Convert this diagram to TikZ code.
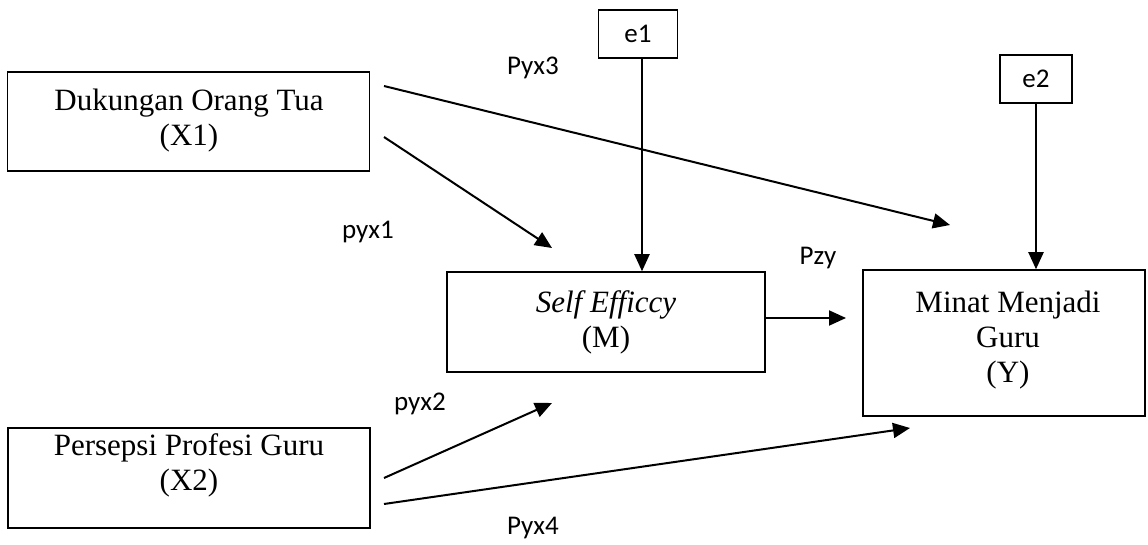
\documentclass[tikz,border=0pt]{standalone}
\usepackage{fontspec}
\setmainfont{Liberation Serif}
\newfontfamily\lblfont{Carlito}
\usetikzlibrary{arrows.meta}
\begin{document}
\begin{tikzpicture}[x=1pt,y=-1pt,
  box/.style={draw, line width=1.5pt, inner sep=0pt},
  boxtext/.style={font=\fontsize{31}{35}\selectfont, align=center, inner sep=0pt},
  lbl/.style={font=\lblfont\fontsize{27}{30}\selectfont, inner sep=0pt},
  arr/.style={line width=2pt, -{Triangle[length=17pt,width=15pt]}}]
\useasboundingbox (0,0) rectangle (1148,545);
% boxes
\node[box, minimum width=362pt, minimum height=99pt] (X1) at (188.5,121.5) {};
\node[box, minimum width=362pt, minimum height=100pt] (X2) at (189,478) {};
\node[box, minimum width=318pt, minimum height=100pt] (M) at (606,322) {};
\node[box, minimum width=282pt, minimum height=146pt] (Y) at (1004,343) {};
\node[box, minimum width=79pt, minimum height=48pt, lbl] (e1) at (638,34) {e1};
\node[box, minimum width=72pt, minimum height=48pt, lbl] (e2) at (1036,79) {e2};
% box texts
\node[boxtext] (tX1) at (189,121) {Dukungan Orang Tua\\(X1)};
\node[boxtext] (tX2) at (189,465) {Persepsi Profesi Guru\\(X2)};
\node[boxtext] (tM) at (606,322) {\textit{Self Efficcy}\\(M)};
\node[boxtext] (tY) at (1008,340) {Minat Menjadi\\Guru\\(Y)};
% labels
\node[lbl] (lPyx3) at (533,68) {Pyx3};
\node[lbl] (lpyx1) at (368,232) {pyx1};
\node[lbl] (lpyx2) at (420,404) {pyx2};
\node[lbl] (lPzy) at (818,258) {Pzy};
\node[lbl] (lPyx4) at (533,528) {Pyx4};
% arrow end points
\coordinate (s3) at (384,86);
\coordinate (t3) at (950,225);
\coordinate (s1) at (384,137);
\coordinate (t1) at (552,248);
\coordinate (s2) at (384,478);
\coordinate (t2) at (552,403);
\coordinate (s4) at (384,504);
\coordinate (t4) at (910,428);
\coordinate (tzy) at (846,318);
% arrows
\draw[arr] (s3) -- (t3);
\draw[arr] (s1) -- (t1);
\draw[arr] (s2) -- (t2);
\draw[arr] (s4) -- (t4);
\draw[arr] (M.east |- tzy) -- (tzy);
\draw[arr] (e1.south -| 642,0) -- (M.north -| 642,0);
\draw[arr] (e2.south) -- (e2.south |- Y.north);
\end{tikzpicture}
\end{document}
